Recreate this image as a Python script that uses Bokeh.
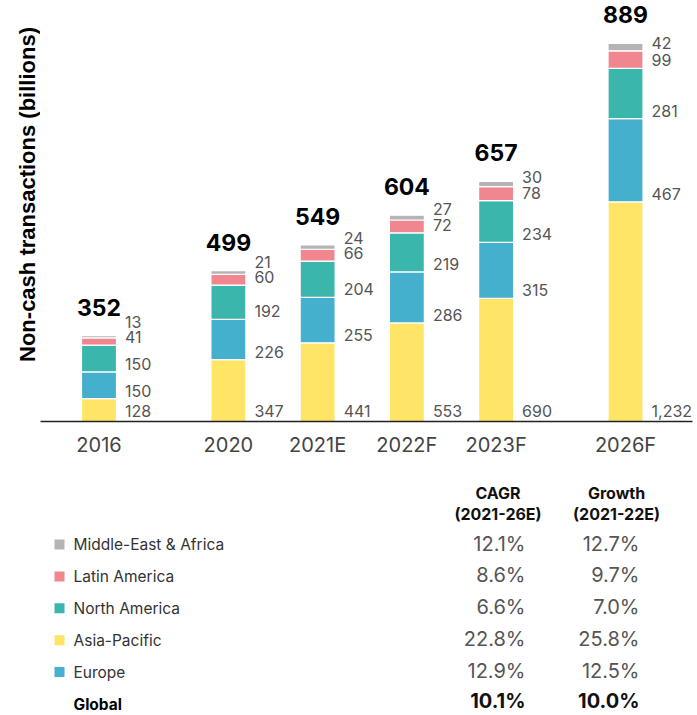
from bokeh.plotting import figure
from bokeh.models import ColumnDataSource, Range1d, FixedTicker
from bokeh.layouts import column, row
from bokeh.embed import file_html
from bokeh.resources import INLINE
from bokeh.core.properties import value
import math

# ---------------- data ----------------
years = ["2016", "2020", "2021E", "2022F", "2023F", "2026F"]
period_group = [0, 1, 1, 1, 1, 2]        # historical / near-term / long-term outlook
regions_stack = ["Asia-Pacific", "Europe", "North America", "Latin America", "Middle-East & Africa"]
asia_pacific = [128, 347, 441, 553, 690, 1232]
europe = [150, 226, 255, 286, 315, 467]
north_america = [150, 192, 204, 219, 234, 281]
latin_america = [41, 60, 66, 72, 78, 99]
middle_east_africa = [13, 21, 24, 27, 30, 42]
totals = [352, 499, 549, 604, 657, 889]
y_title = "Non-cash transactions (billions)"

table_regions = ["Middle-East & Africa", "Latin America", "North America", "Asia-Pacific", "Europe"]
cagr_2021_26 = ["12.1%", "8.6%", "6.6%", "22.8%", "12.9%"]
growth_2021_22 = ["12.7%", "9.7%", "7.0%", "25.8%", "12.5%"]
global_label = "Global"
global_cagr = "10.1%"
global_growth = "10.0%"

colors = {
    "Asia-Pacific": "#FFE566",
    "Europe": "#45AFCE",
    "North America": "#3BB6AC",
    "Latin America": "#F0868E",
    "Middle-East & Africa": "#B4B4B6",
}

# ---------------- layout constants ----------------
W = 697
BL, BR = 40, 5
FRAME_H = 421
K = 0.1783                 # px per billion
Y_END = FRAME_H / K
CH = 470
GROUP_GAP = 0.45           # extra spacing between period groups (in bar slots)
U = 89.24                  # px per bar slot
FIRST_CENTER = 98.5 - BL   # px from frame left to first bar centre

x_pos = [i + GROUP_GAP * g for i, g in enumerate(period_group)]
x_start = -FIRST_CENTER / U
x_end = x_start + (W - BL - BR) / U

# narrow panel holding the rotated y-axis title
tf = figure(width=BL, height=CH, x_range=Range1d(0, BL), y_range=Range1d(FRAME_H, 0),
            output_backend="svg", toolbar_location=None,
            min_border_left=0, min_border_right=0, min_border_top=0,
            min_border_bottom=CH - FRAME_H)
tf.axis.visible = False
tf.grid.visible = False
tf.outline_line_color = None
tf.text(x=[27], y=[194], text=[y_title], angle=math.pi / 2,
        text_align="center", text_baseline="middle",
        text_font=value("Liberation Sans"), text_font_style="bold",
        text_font_size="22px", text_color="#000000")

series = [asia_pacific, europe, north_america, latin_america, middle_east_africa]
src = ColumnDataSource(dict(x=x_pos, **{r: s for r, s in zip(regions_stack, series)}))

p = figure(width=W - BL, height=CH, x_range=Range1d(x_start, x_end),
           y_range=Range1d(0, Y_END), output_backend="svg", toolbar_location=None,
           min_border_left=0, min_border_right=BR, min_border_top=0,
           min_border_bottom=CH - FRAME_H)
p.outline_line_color = None
p.grid.visible = False
p.yaxis.visible = False

p.vbar_stack(regions_stack, x="x", width=0.392, source=src,
             color=[colors[r] for r in regions_stack], line_color="white", line_width=1.2)

# segment value labels (vertical centre in px above baseline, spread to avoid overlap)
lx, ly, lt = [], [], []
for j, xp in enumerate(x_pos):
    base = 0
    prev = None
    for i, s in enumerate(series):
        pos = base * K + 8
        if i == 0:
            pos = max(pos, 11)
        if prev is not None:
            pos = max(pos, prev + 15.5)
        prev = pos
        lx.append(xp)
        ly.append(pos / K)
        lt.append(f"{s[j]:,}")
        base += s[j]
p.text(x=lx, y=ly, text=lt, x_offset=26, text_align="left", text_baseline="middle",
       text_font=value("Inter"), text_font_size="16px", text_color="#555555")

# total labels
tops = [sum(s[j] for s in series) for j in range(len(years))]
p.text(x=x_pos, y=[(t * K + 28.5) / K for t in tops], text=[str(t) for t in totals],
       text_align="center", text_baseline="middle",
       text_font=value("Inter"), text_font_style="bold",
       text_font_size="23px", text_color="#000000")

ax = p.xaxis[0]
ax.ticker = FixedTicker(ticks=x_pos)
ax.major_label_overrides = {xp: y for xp, y in zip(x_pos, years)}
ax.axis_line_color = "#222222"
ax.axis_line_width = 1.3
ax.major_tick_line_color = None
ax.minor_tick_line_color = None
ax.major_label_text_font = "Inter"
ax.major_label_text_font_size = "20px"
ax.major_label_text_color = "#444444"
ax.major_label_standoff = 5

# ---------------- table ----------------
TH = 715 - CH
t = figure(width=W, height=TH, x_range=Range1d(0, W), y_range=Range1d(715, CH),
           output_backend="svg", toolbar_location=None,
           min_border_left=0, min_border_right=0, min_border_top=0, min_border_bottom=0)
t.axis.visible = False
t.grid.visible = False
t.outline_line_color = None

ROW0, ROW_GAP = 544, 31.9
row_y = [ROW0 + i * ROW_GAP for i in range(len(table_regions))]
glob_y = ROW0 + len(table_regions) * ROW_GAP
COL1_R, COL2_R = 525, 639
COL1_C, COL2_C = 497.5, 616

t.scatter(x=[59] * len(table_regions), y=row_y, marker="square", size=10,
          color=[colors[r] for r in table_regions], line_color=None)
t.text(x=[73] * len(table_regions), y=row_y, text=table_regions, text_baseline="middle",
       text_font=value("Inter"), text_font_size="15.5px", text_color="#333333")
t.text(x=[COL1_R] * len(table_regions), y=[y - 1 for y in row_y], text=cagr_2021_26,
       text_align="right", text_baseline="middle",
       text_font=value("Inter"), text_font_size="20px", text_color="#555555")
t.text(x=[COL2_R] * len(table_regions), y=[y - 1 for y in row_y], text=growth_2021_22,
       text_align="right", text_baseline="middle",
       text_font=value("Inter"), text_font_size="20px", text_color="#555555")

t.text(x=[73], y=[glob_y], text=[global_label], text_baseline="middle",
       text_font=value("Inter"), text_font_style="bold",
       text_font_size="15.5px", text_color="#000000")
t.text(x=[COL1_R, COL2_R], y=[glob_y - 3] * 2, text=[global_cagr, global_growth],
       text_align="right", text_baseline="middle",
       text_font=value("Inter"), text_font_style="bold",
       text_font_size="20px", text_color="#111111")

t.text(x=[COL1_C, COL2_C], y=[492, 492], text=["CAGR", "Growth"],
       text_align="center", text_baseline="middle",
       text_font=value("Inter"), text_font_style="bold",
       text_font_size="16px", text_color="#111111")
t.text(x=[COL1_C, COL2_C], y=[513, 513], text=["(2021-26E)", "(2021-22E)"],
       text_align="center", text_baseline="middle",
       text_font=value("Inter"), text_font_style="bold",
       text_font_size="16px", text_color="#111111")

layout = column(row(tf, p, spacing=0), t, spacing=0)
open("out.html", "w").write(file_html(layout, INLINE))
